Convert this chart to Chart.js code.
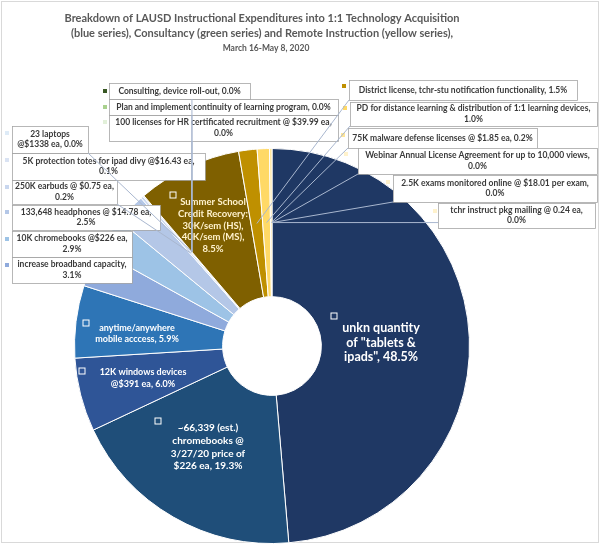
<!DOCTYPE html>
<html>
<head>
<meta charset="utf-8">
<title>LAUSD Instructional Expenditures</title>
<script src="https://cdn.jsdelivr.net/npm/chart.js@4.4.1/dist/chart.umd.min.js"></script>
<style>
  html, body { margin: 0; padding: 0; background: #fff; }
  #wrap { position: relative; width: 600px; height: 544px; }
</style>
</head>
<body>
<div id="wrap"><canvas id="chart"></canvas></div>
<script>
const categories = [
  'unkn quantity of "tablets & ipads"',
  '~66,339 (est.) chromebooks @ 3/27/20 price of $226 ea',
  '12K windows devices @$391 ea',
  'anytime/anywhere mobile acccess',
  'increase broadband capacity',
  '10K chromebooks @$226 ea',
  '133,648 headphones @ $14.78 ea',
  '250K earbuds @ $0.75 ea',
  '5K protection totes for ipad divy @$16.43 ea',
  '23 laptops @$1338 ea',
  '100 licenses for HR certificated recruitment @ $39.99 ea',
  'Plan and implement continuity of learning program',
  'Consulting, device roll-out',
  'Summer School Credit Recovery: 30K/sem (HS), 40K/sem (MS)',
  'District license, tchr-stu notification functionality',
  'PD for distance learning & distribution of 1:1 learning devices',
  '75K malware defense licenses @ $1.85 ea',
  'Webinar Annual License Agreement for up to 10,000 views',
  '2.5K exams monitored online @ $18.01 per exam',
  'tchr instruct pkg mailing @ 0.24 ea'
];
// share of instructional expenditures, percent
const shares = [48.5, 19.3, 6.0, 5.9, 3.1, 2.9, 2.5, 0.2, 0.1, 0.0,
                0.0, 0.0, 0.0,
                8.5, 1.5, 1.0, 0.2, 0.0, 0.0, 0.0];

const titleLines = [
  'Breakdown of LAUSD Instructional Expenditures into 1:1 Technology Acquisition',
  '(blue series), Consultancy (green series) and Remote Instruction (yellow series),'
];
const subtitleText = 'March 16-May 8, 2020';

// blue, green, yellow families
const sliceColors = [
  '#1f3864', '#1f4e79', '#2f5597', '#2e75b6', '#8faadc', '#9dc3e6', '#b4c7e7', '#c9d7ef', '#dae3f3', '#deebf7',
  '#e2f0d9', '#a9d18e', '#385723',
  '#7f6000', '#bf9000', '#ffd966', '#ffe699', '#fff2cc', '#fff2cc', '#fff2cc'
];

const FONT = 'Lato, "Open Sans", sans-serif';

// where each data label sits (Excel had them dragged around by hand)
// box: outside callout with border; inside: text written on the slice
const labelLayout = [
  { inside: true, cx: 381, cy: 328, size: 12.5, lh: 14.5, wrap: 92, key: [334, 316] },
  { inside: true, cx: 208, cy: 428, size: 10, lh: 12.7, wrap: 92, key: [158, 421] },
  { inside: true, cx: 143, cy: 372, size: 9, lh: 12, wrap: 95, key: [82, 371] },
  { inside: true, cx: 137, cy: 328, size: 9, lh: 11.5, wrap: 95, key: [86, 323] },
  { box: [12, 257, 120, 26], key: [7, 265] },
  { box: [12, 231, 120, 26], key: [7, 239] },
  { box: [12, 205, 148, 25], key: [7, 212] },
  { box: [12, 180, 105, 24], key: [7, 187], leader: true },
  { box: [12, 153, 193, 27], key: [7, 160], leader: true },
  { box: [12, 126, 76, 27], key: [7, 133], leader: true },
  { box: [109, 115, 229, 26], key: [105, 122], leader: true },
  { box: [109, 99, 229, 16], key: [105, 107], leader: true },
  { box: [109, 83, 141, 16], key: [105, 91], leader: true },
  { inside: true, cx: 213, cy: 202, size: 9.5, lh: 11.8, wrap: 84, key: [173, 195], color: '#fff2cc' },
  { box: [349, 80, 228, 20], key: [344, 86], leader: true },
  { box: [350, 102, 247, 24], key: [345, 108], leader: true },
  { box: [348, 128, 189, 20], key: [343, 135], leader: true },
  { box: [358, 148, 239, 26], key: [346, 154], leader: true },
  { box: [393, 175, 204, 27], key: [388, 182], leader: true },
  { box: [438, 203, 157, 25], key: [435, 211], leader: true }
];

function wrapText(ctx, text, maxW) {
  const words = text.split(' ');
  const lines = [];
  let cur = '';
  words.forEach((w) => {
    const test = cur ? cur + ' ' + w : w;
    if (cur && ctx.measureText(test).width > maxW) {
      lines.push(cur);
      cur = w;
    } else {
      cur = test;
    }
  });
  if (cur) lines.push(cur);
  return lines;
}

const calloutPlugin = {
  id: 'callouts',
  beforeDraw(chart) {
    const ctx = chart.ctx;
    ctx.save();
    ctx.fillStyle = '#fff';
    ctx.fillRect(0, 0, chart.width, chart.height);
    ctx.strokeStyle = '#d9d9d9';
    ctx.lineWidth = 1;
    ctx.strokeRect(1.5, 1.5, chart.width - 3, chart.height - 3);
    ctx.restore();
  },
  afterDatasetsDraw(chart) {
    const ctx = chart.ctx;
    const arcs = chart.getDatasetMeta(0).data;
    ctx.save();

    // title
    ctx.fillStyle = '#595959';
    ctx.textAlign = 'center';
    ctx.textBaseline = 'middle';
    ctx.font = 'bold 11px ' + FONT;
    titleLines.forEach((t, k) => ctx.fillText(t, 262, 18 + k * 15));
    ctx.font = 'bold 8.5px ' + FONT;
    ctx.fillText(subtitleText, 266, 48);

    const leaders = [];
    labelLayout.forEach((lay, i) => {
      const text = categories[i] + ', ' + shares[i].toFixed(1) + '%';
      if (lay.inside) {
        ctx.font = 'bold ' + lay.size + 'px ' + FONT;
        const lines = wrapText(ctx, text, lay.wrap);
        ctx.fillStyle = lay.color || '#ffffff';
        lines.forEach((ln, k) => ctx.fillText(ln, lay.cx, lay.cy + k * lay.lh));
        ctx.fillStyle = sliceColors[i];
        ctx.strokeStyle = '#ffffff';
        ctx.lineWidth = 1;
        ctx.fillRect(lay.key[0] - 3, lay.key[1] - 3, 6, 6);
        ctx.strokeRect(lay.key[0] - 3, lay.key[1] - 3, 6, 6);
        return;
      }
      const [bx, by, bw, bh] = lay.box;
      ctx.fillStyle = '#ffffff';
      ctx.fillRect(bx, by, bw, bh);
      ctx.strokeStyle = '#a6a6a6';
      ctx.lineWidth = 0.8;
      ctx.strokeRect(bx + 0.5, by + 0.5, bw, bh);
      ctx.font = 'bold 8.5px ' + FONT;
      const lines = wrapText(ctx, text, bw - 6);
      const lh = 10.5;
      const top = by + bh / 2 - (lines.length - 1) * lh / 2;
      ctx.fillStyle = '#3a3a3a';
      lines.forEach((ln, k) => ctx.fillText(ln, bx + bw / 2, top + k * lh));
      ctx.fillStyle = sliceColors[i];
      ctx.fillRect(lay.key[0] - 2, lay.key[1] - 2, 4, 4);
      if (lay.leader) {
        const p = arcs[i].getCenterPoint();
        const sx = Math.min(Math.max(p.x, bx), bx + bw);
        const sy = Math.min(Math.max(p.y, by), by + bh);
        leaders.push([sx, sy, p.x, p.y]);
      }
    });

    ctx.strokeStyle = '#a9b7cf';
    ctx.lineWidth = 1;
    leaders.forEach(([x1, y1, x2, y2]) => {
      ctx.beginPath();
      ctx.moveTo(x1, y1);
      ctx.lineTo(x2, y2);
      ctx.stroke();
    });
    ctx.restore();
  }
};

new Chart(document.getElementById('chart'), {
  type: 'doughnut',
  data: {
    labels: categories,
    datasets: [{
      data: shares,
      backgroundColor: sliceColors,
      borderColor: '#ffffff',
      borderWidth: 1
    }]
  },
  options: {
    responsive: true,
    maintainAspectRatio: false,
    animation: false,
    cutout: '25%',
    layout: { padding: { left: 74, right: 130, top: 148, bottom: 0 } },
    plugins: {
      legend: { display: false },
      title: { display: false },
      tooltip: { enabled: false }
    }
  },
  plugins: [calloutPlugin]
});
</script>
</body>
</html>
